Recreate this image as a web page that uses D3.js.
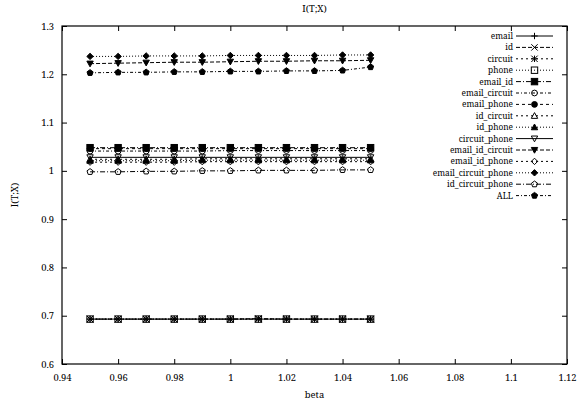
<!DOCTYPE html>
<html><head><meta charset="utf-8">
<script src="https://cdn.jsdelivr.net/npm/d3@7"></script>
<style>body{margin:0;background:#fff}svg text{fill:#000}</style>
</head><body><svg id="c" width="586" height="402"></svg>
<script>
const betas = [0.95,0.96,0.97,0.98,0.99,1.00,1.01,1.02,1.03,1.04,1.05];
const seriesNames = ["email","id","circuit","phone","email_id","email_circuit","email_phone","id_circuit","id_phone","circuit_phone","email_id_circuit","email_id_phone","email_circuit_phone","id_circuit_phone","ALL"];
const email = [0.693,0.693,0.693,0.693,0.693,0.693,0.693,0.693,0.693,0.693,0.693];
const id = [0.693,0.693,0.693,0.693,0.693,0.693,0.694,0.693,0.693,0.693,0.693];
const circuit = [0.693,0.693,0.693,0.693,0.693,0.693,0.693,0.693,0.693,0.693,0.693];
const phone = [0.693,0.693,0.693,0.693,0.693,0.693,0.693,0.693,0.693,0.693,0.693];
const email_id = [1.048,1.048,1.048,1.048,1.048,1.048,1.048,1.048,1.048,1.048,1.048];
const email_circuit = [1.041,1.041,1.041,1.041,1.041,1.042,1.042,1.042,1.042,1.042,1.042];
const email_phone = [1.046,1.046,1.046,1.046,1.046,1.046,1.046,1.046,1.046,1.046,1.046];
const id_circuit = [1.024,1.024,1.024,1.024,1.025,1.025,1.025,1.025,1.025,1.025,1.025];
const id_phone = [1.021,1.021,1.021,1.021,1.022,1.022,1.022,1.022,1.022,1.022,1.022];
const circuit_phone = [1.028,1.028,1.028,1.028,1.028,1.028,1.028,1.028,1.028,1.028,1.028];
const email_id_circuit = [1.222,1.223,1.224,1.225,1.225,1.226,1.227,1.227,1.228,1.228,1.229];
const email_id_phone = [1.018,1.018,1.018,1.018,1.019,1.019,1.019,1.019,1.019,1.019,1.019];
const email_circuit_phone = [1.237,1.237,1.238,1.238,1.238,1.239,1.239,1.239,1.239,1.240,1.240];
const id_circuit_phone = [0.998,0.998,0.999,0.999,1.000,1.000,1.001,1.001,1.001,1.002,1.002];
const ALL = [1.203,1.204,1.204,1.205,1.205,1.206,1.206,1.207,1.207,1.208,1.215];
const xTicks = [0.94,0.96,0.98,1,1.02,1.04,1.06,1.08,1.1,1.12];
const yTicks = [0.6,0.7,0.8,0.9,1,1.1,1.2,1.3];

const values = [email,id,circuit,phone,email_id,email_circuit,email_phone,id_circuit,id_phone,circuit_phone,email_id_circuit,email_id_phone,email_circuit_phone,id_circuit_phone,ALL];
const dashes = ["", "4,2", "2,3", "1,2", "5,2,1,2", "3,2,1,2", "3,3", "2,3", "1,2"];
const markers = ["plus","cross","star","osquare","fsquare","ocircle","fcircle","otri","ftri","oitri","fitri","odiamond","fdiamond","opent","fpent"];

const FONT = '"Noto Serif","DejaVu Serif",serif';
const svg = d3.select("#c");
const probe = svg.append("text").attr("font-family",FONT).attr("font-size",10).text("email_circuit_phone");
const FS = Math.min(11, 10*91/probe.node().getComputedTextLength());
probe.remove();
const LFS = 8.3; // legend rows are 11.4px apart

const L=62,R=567,T=26,B=364;
const x = d3.scaleLinear().domain([0.94,1.12]).range([L,R]);
const y = d3.scaleLinear().domain([0.6,1.3]).range([B,T]);
const fmt = d => String(+d.toFixed(2));

svg.append("g").attr("transform",`translate(0,${B})`)
  .call(d3.axisBottom(x).tickValues(xTicks).tickFormat(fmt).tickSizeInner(-5).tickSizeOuter(0).tickPadding(10));
svg.append("g").attr("transform",`translate(0,${T})`)
  .call(d3.axisTop(x).tickValues(xTicks).tickFormat("").tickSizeInner(-5).tickSizeOuter(0));
svg.append("g").attr("transform",`translate(${L},0)`)
  .call(d3.axisLeft(y).tickValues(yTicks).tickFormat(fmt).tickSizeInner(-5).tickSizeOuter(0).tickPadding(8));
svg.append("g").attr("transform",`translate(${R},0)`)
  .call(d3.axisRight(y).tickValues(yTicks).tickFormat("").tickSizeInner(-5).tickSizeOuter(0));
svg.selectAll("g").attr("font-family",FONT).attr("font-size",FS);
svg.selectAll(".domain").remove();
svg.selectAll(".tick line").attr("stroke","#000");
svg.selectAll(".tick text").attr("fill","#000");
svg.append("rect").attr("x",L).attr("y",T).attr("width",R-L).attr("height",B-T).attr("fill","none").attr("stroke","#000").attr("stroke-width",1.2);

svg.append("text").attr("x",(L+R)/2).attr("y",12).attr("text-anchor","middle").attr("font-family",FONT).attr("font-size",FS).text("I(T;X)");
svg.append("text").attr("x",(L+R)/2).attr("y",398).attr("text-anchor","middle").attr("font-family",FONT).attr("font-size",FS).text("beta");
svg.append("text").attr("transform",`translate(18,${(T+B)/2}) rotate(-90)`).attr("text-anchor","middle").attr("font-family",FONT).attr("font-size",FS).text("I(T;X)");

function drawMarker(g, type, cx, cy){
  const s=3.2;
  const filled = type[0]==="f";
  let el;
  const poly = pts => g.append("polygon").attr("points",pts.map(p=>p.join(",")).join(" "));
  if(type==="plus"){ el=g.append("path").attr("d",`M${cx-s},${cy}H${cx+s}M${cx},${cy-s}V${cy+s}`); }
  else if(type==="cross"){ el=g.append("path").attr("d",`M${cx-s},${cy-s}L${cx+s},${cy+s}M${cx-s},${cy+s}L${cx+s},${cy-s}`); }
  else if(type==="star"){ el=g.append("path").attr("d",`M${cx-s},${cy}H${cx+s}M${cx},${cy-s}V${cy+s}M${cx-s},${cy-s}L${cx+s},${cy+s}M${cx-s},${cy+s}L${cx+s},${cy-s}`); }
  else if(type.endsWith("square")){ el=g.append("rect").attr("x",cx-s).attr("y",cy-s).attr("width",2*s).attr("height",2*s); }
  else if(type.endsWith("circle")){ el=g.append("circle").attr("cx",cx).attr("cy",cy).attr("r",s*0.9); }
  else if(type.endsWith("itri")){ el=poly([[cx-s,cy-s*0.8],[cx+s,cy-s*0.8],[cx,cy+s]]); }
  else if(type.endsWith("tri")){ el=poly([[cx-s,cy+s*0.8],[cx+s,cy+s*0.8],[cx,cy-s]]); }
  else if(type.endsWith("diamond")){ el=poly([[cx,cy-s],[cx+s,cy],[cx,cy+s],[cx-s,cy]]); }
  else if(type.endsWith("pent")){ const pts=d3.range(5).map(i=>{const a=-Math.PI/2+i*2*Math.PI/5;return [cx+s*Math.cos(a),cy+s*Math.sin(a)];}); el=poly(pts); }
  el.attr("stroke","#000").attr("stroke-width",1).attr("fill", filled?"#000":"none");
}

const line = d3.line().x(d=>x(d[0])).y(d=>y(d[1]));
const plot = svg.append("g");
seriesNames.forEach((name,i)=>{
  const data = betas.map((b,j)=>[b,values[i][j]]);
  const g = plot.append("g");
  g.append("path").attr("d",line(data)).attr("fill","none").attr("stroke","#000").attr("stroke-width",1)
    .attr("stroke-dasharray",dashes[i%9]||null);
  data.forEach(d=>drawMarker(g,markers[i],x(d[0]),y(d[1])));
});

const leg = svg.append("g");
seriesNames.forEach((name,i)=>{
  const yy = 36 + i*11.4;
  leg.append("text").attr("x",513).attr("y",yy+3).attr("text-anchor","end").attr("font-family",FONT).attr("font-size",LFS).text(name);
  leg.append("line").attr("x1",516).attr("x2",553).attr("y1",yy).attr("y2",yy).attr("stroke","#000").attr("stroke-width",1)
    .attr("stroke-dasharray",dashes[i%9]||null);
  drawMarker(leg,markers[i],534.5,yy);
});
</script></body></html>
